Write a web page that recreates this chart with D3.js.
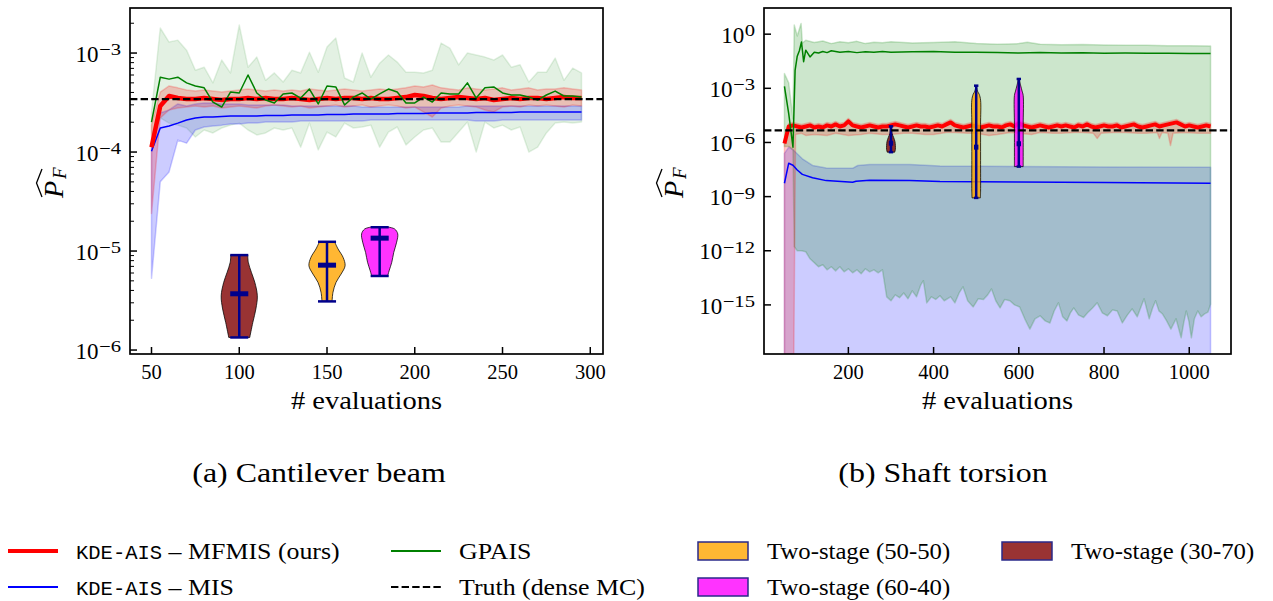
<!DOCTYPE html>
<html>
<head>
<meta charset="utf-8">
<title>Failure probability estimates</title>
<style>
  body { margin: 0; background: #fff; }
  svg { display: block; }
  text { font-family: "Liberation Serif", "Times New Roman", serif; fill: #000; }
  .mono { font-family: "Liberation Mono", "DejaVu Sans Mono", monospace; }
</style>
</head>
<body>
<svg width="1273" height="601"></svg>
<script src="https://d3js.org/d3.v7.min.js"></script>
<script>
// ---------- (a) Cantilever beam ----------
const cbEvals = [50,55,60,65,70,75,80,85,90,95,100,105,110,115,120,125,130,135,140,145,150,155,160,165,170,175,180,185,190,195,200,205,210,215,220,225,230,235,240,245,250,255,260,265,270,275,280,285,290,295];
const cbMfmis = [1.12e-4,2.92e-4,3.68e-4,3.51e-4,3.43e-4,3.43e-4,3.51e-4,3.43e-4,3.35e-4,3.43e-4,
  3.43e-4,3.51e-4,3.43e-4,3.51e-4,3.43e-4,3.43e-4,3.51e-4,3.43e-4,3.35e-4,3.43e-4,
  3.51e-4,3.43e-4,3.51e-4,3.51e-4,3.43e-4,3.51e-4,3.43e-4,3.43e-4,3.51e-4,3.59e-4,
  3.77e-4,3.68e-4,3.51e-4,3.43e-4,3.51e-4,3.59e-4,3.51e-4,3.43e-4,3.51e-4,3.35e-4,
  3.43e-4,3.51e-4,3.43e-4,3.51e-4,3.51e-4,3.43e-4,3.51e-4,3.59e-4,3.51e-4,3.51e-4];
const cbMfmisHi = [1.87e-4,4.04e-4,4.65e-4,4.45e-4,4.23e-4,4.13e-4,4.23e-4,4.13e-4,4.04e-4,4.13e-4,
  4.23e-4,4.33e-4,4.23e-4,4.13e-4,4.23e-4,4.13e-4,4.23e-4,4.13e-4,4.33e-4,4.23e-4,
  4.13e-4,4.23e-4,4.33e-4,4.23e-4,4.13e-4,4.23e-4,4.33e-4,4.23e-4,4.33e-4,4.45e-4,
  4.65e-4,4.55e-4,4.75e-4,4.45e-4,4.33e-4,4.23e-4,4.45e-4,4.33e-4,4.23e-4,4.33e-4,
  4.45e-4,4.23e-4,4.33e-4,4.45e-4,4.23e-4,4.33e-4,4.33e-4,4.45e-4,4.33e-4,4.23e-4];
const cbMfmisLo = [2.4e-5,2.21e-4,2.66e-4,2.78e-4,2.85e-4,2.92e-4,2.85e-4,2.92e-4,2.78e-4,2.85e-4,
  2.92e-4,2.85e-4,2.78e-4,2.92e-4,2.99e-4,2.92e-4,2.85e-4,2.92e-4,2.78e-4,2.85e-4,
  2.92e-4,2.99e-4,2.85e-4,2.92e-4,2.99e-4,2.85e-4,2.92e-4,2.99e-4,2.92e-4,2.78e-4,
  2.85e-4,2.54e-4,2.26e-4,2.78e-4,2.92e-4,2.99e-4,2.92e-4,2.85e-4,2.66e-4,2.54e-4,
  2.85e-4,2.92e-4,2.85e-4,2.99e-4,2.92e-4,2.99e-4,2.92e-4,2.85e-4,2.99e-4,2.92e-4];
const cbMis = [1.02e-4,1.75e-4,1.83e-4,1.96e-4,2.11e-4,2.21e-4,2.26e-4,2.26e-4,2.29e-4,2.31e-4,
  2.31e-4,2.31e-4,2.31e-4,2.34e-4,2.34e-4,2.34e-4,2.37e-4,2.37e-4,2.37e-4,2.37e-4,
  2.40e-4,2.40e-4,2.40e-4,2.42e-4,2.42e-4,2.42e-4,2.42e-4,2.42e-4,2.45e-4,2.45e-4,
  2.45e-4,2.45e-4,2.48e-4,2.48e-4,2.48e-4,2.48e-4,2.48e-4,2.51e-4,2.51e-4,2.51e-4,
  2.51e-4,2.51e-4,2.54e-4,2.54e-4,2.54e-4,2.54e-4,2.54e-4,2.54e-4,2.54e-4,2.54e-4];
const cbMisHi = [1.18e-4,2.48e-4,2.66e-4,3.06e-4,2.92e-4,3.06e-4,3.13e-4,3.13e-4,3.06e-4,3.06e-4,
  3.06e-4,2.99e-4,2.99e-4,2.99e-4,2.99e-4,2.99e-4,2.92e-4,2.92e-4,2.92e-4,2.92e-4,
  2.92e-4,2.92e-4,2.92e-4,2.92e-4,2.85e-4,2.85e-4,2.85e-4,2.85e-4,2.85e-4,2.85e-4,
  2.85e-4,2.85e-4,2.85e-4,2.85e-4,2.85e-4,2.85e-4,2.92e-4,2.92e-4,2.92e-4,2.92e-4,
  2.92e-4,2.92e-4,2.92e-4,2.92e-4,2.92e-4,2.92e-4,2.92e-4,2.92e-4,2.92e-4,2.92e-4];
const cbMisLo = [5.3e-6,5.0e-5,6.3e-5,1.32e-4,1.23e-4,1.67e-4,1.79e-4,1.83e-4,1.87e-4,1.92e-4,
  1.92e-4,1.96e-4,1.96e-4,2.01e-4,2.01e-4,2.01e-4,2.01e-4,2.06e-4,2.06e-4,2.06e-4,
  2.06e-4,2.06e-4,2.06e-4,2.06e-4,2.06e-4,2.11e-4,2.11e-4,2.11e-4,2.11e-4,2.11e-4,
  2.11e-4,2.11e-4,2.11e-4,2.11e-4,2.11e-4,2.11e-4,2.11e-4,2.06e-4,2.06e-4,2.06e-4,
  2.11e-4,2.11e-4,2.11e-4,2.11e-4,2.11e-4,2.11e-4,2.11e-4,2.11e-4,2.11e-4,2.11e-4];
const cbGpais = [2.01e-4,5.7e-4,5.45e-4,5.7e-4,5.0e-4,4.65e-4,4.45e-4,3.20e-4,2.85e-4,4.04e-4,
  3.95e-4,6.0e-4,3.95e-4,3.35e-4,3.13e-4,3.86e-4,3.95e-4,3.51e-4,4.33e-4,3.06e-4,
  4.65e-4,4.55e-4,2.99e-4,3.59e-4,3.95e-4,3.43e-4,3.86e-4,4.33e-4,4.04e-4,3.13e-4,
  3.13e-4,3.59e-4,3.20e-4,3.95e-4,3.86e-4,3.86e-4,5.0e-4,3.51e-4,4.45e-4,4.55e-4,
  3.95e-4,3.77e-4,3.77e-4,3.59e-4,3.35e-4,3.77e-4,4.13e-4,3.68e-4,3.68e-4,3.59e-4];
const cbGpaisHi = [2.54e-4,1.79e-3,1.29e-3,1.35e-3,1.07e-3,6.7e-4,7.2e-4,5.0e-4,8.5e-4,6.3e-4,
  1.92e-3,7.2e-4,9.1e-4,5.3e-4,6.3e-4,5.1e-4,6.7e-4,6.3e-4,1.02e-3,6.4e-4,
  1.15e-3,1.42e-3,5.6e-4,5.1e-4,1.0e-3,5.7e-4,7.9e-4,9.55e-4,8.1e-4,6.4e-4,
  6.4e-4,6.3e-4,6.7e-4,1.26e-3,1.12e-3,7.6e-4,1.0e-3,9.55e-4,9.1e-4,8.5e-4,
  9.55e-4,7.2e-4,7.6e-4,5.1e-4,6.4e-4,6.4e-4,8.9e-4,5.3e-4,7.05e-4,6.3e-4];
const cbGpaisLo = [1.49e-4,2.21e-4,1.96e-4,1.87e-4,1.75e-4,1.42e-4,1.67e-4,1.56e-4,1.75e-4,1.87e-4,
  1.96e-4,1.67e-4,1.49e-4,1.56e-4,1.75e-4,1.67e-4,1.75e-4,1.12e-4,1.96e-4,1.05e-4,
  1.59e-4,1.42e-4,1.96e-4,1.75e-4,1.79e-4,1.87e-4,1.12e-4,1.59e-4,1.79e-4,1.18e-4,
  1.42e-4,1.67e-4,1.75e-4,1.26e-4,1.26e-4,1.59e-4,2.01e-4,1.0e-4,2.01e-4,1.75e-4,
  1.87e-4,1.67e-4,1.79e-4,1.0e-4,1.12e-4,1.56e-4,1.96e-4,2.01e-4,1.96e-4,2.01e-4];
const cbTruth = 3.43e-4;

// two-stage violins: order 30-70, 50-50, 60-40
const cbViolinPos = [100, 150, 180];
const cbViolinGrid = [
  [9.1e-6, 7.7e-6, 6.1e-6, 4.83e-6, 3.53e-6, 2.6e-6, 1.9e-6, 1.34e-6],
  [1.24e-5, 1.05e-5, 8.63e-6, 7.1e-6, 5.86e-6, 4.83e-6, 3.83e-6, 3.1e-6],
  [1.74e-5, 1.67e-5, 1.49e-5, 1.23e-5, 9.7e-6, 7.7e-6, 6.3e-6, 5.6e-6]];
const cbViolinDens = [
  [0.47, 0.5, 0.67, 0.86, 1.0, 0.92, 0.75, 0.58],
  [0.42, 0.61, 0.89, 1.0, 0.78, 0.5, 0.33, 0.28],
  [0.52, 0.83, 1.0, 0.94, 0.78, 0.67, 0.52, 0.44]];
const cbViolinMean = [3.7e-6, 7.2e-6, 1.35e-5];

const cbXTicks = [50, 100, 150, 200, 250, 300];
const cbYTicks = [1e-6, 1e-5, 1e-4, 1e-3];
const cbYTickExp = ["\u22126", "\u22125", "\u22124", "\u22123"];

// ---------- (b) Shaft torsion ----------
const stEvals = [50,60,70,80,90,100,110,120,130,140,150,160,170,180,190,200,210,220,230,240,250,260,270,280,290,300,310,320,330,340,350,360,370,380,390,400,410,420,430,440,450,460,470,480,490,500,510,520,530,540,550,560,570,580,590,600,610,620,630,640,650,660,670,680,690,700,710,720,730,740,750,760,770,780,790,800,810,820,830,840,850,860,870,880,890,900,910,920,930,940,950,960,970,980,990,1000,1010,1020,1030,1040,1050];
const stMfmis = [8.8e-7,7.7e-6,8.8e-6,7.7e-6,6.8e-6,7.7e-6,8.8e-6,6.8e-6,7.7e-6,6.8e-6,
  8.8e-6,7.7e-6,1.0e-5,7.7e-6,8.8e-6,1.47e-5,8.8e-6,7.7e-6,6.8e-6,7.7e-6,
  8.8e-6,7.7e-6,6.8e-6,7.7e-6,7.7e-6,8.8e-6,1.0e-5,8.8e-6,7.7e-6,6.8e-6,
  7.7e-6,8.8e-6,7.7e-6,7.7e-6,6.8e-6,7.7e-6,8.8e-6,7.7e-6,1.0e-5,1.29e-5,
  8.8e-6,7.7e-6,6.8e-6,7.7e-6,8.8e-6,7.7e-6,6.8e-6,7.7e-6,8.8e-6,7.7e-6,
  7.7e-6,6.8e-6,8.8e-6,1.0e-5,7.7e-6,1.14e-5,8.8e-6,7.7e-6,6.8e-6,7.7e-6,
  8.8e-6,7.7e-6,6.8e-6,7.7e-6,8.8e-6,7.7e-6,8.8e-6,7.7e-6,6.8e-6,8.8e-6,
  7.7e-6,1.0e-5,7.7e-6,6.8e-6,7.7e-6,8.8e-6,7.7e-6,7.7e-6,8.8e-6,6.8e-6,
  7.7e-6,8.8e-6,1.0e-5,7.7e-6,6.8e-6,7.7e-6,8.8e-6,1.0e-5,7.7e-6,8.8e-6,
  1.0e-5,1.14e-5,1.29e-5,1.0e-5,7.7e-6,8.8e-6,7.7e-6,6.8e-6,7.7e-6,8.8e-6,
  7.7e-6];
const stMfmisHi = [1.3e-6,1.14e-5,1.29e-5,1.14e-5,1.0e-5,1.14e-5,1.29e-5,1.0e-5,1.14e-5,1.0e-5,
  1.29e-5,1.14e-5,1.47e-5,1.14e-5,1.29e-5,2.15e-5,1.29e-5,1.14e-5,1.0e-5,1.14e-5,
  1.29e-5,1.14e-5,1.0e-5,1.14e-5,1.14e-5,1.29e-5,1.47e-5,1.29e-5,1.14e-5,1.0e-5,
  1.14e-5,1.29e-5,1.14e-5,1.14e-5,1.0e-5,1.14e-5,1.29e-5,1.14e-5,1.47e-5,1.9e-5,
  1.29e-5,1.14e-5,1.0e-5,1.14e-5,1.29e-5,1.14e-5,1.0e-5,1.14e-5,1.29e-5,1.14e-5,
  1.14e-5,1.0e-5,1.29e-5,1.47e-5,1.14e-5,1.67e-5,1.29e-5,1.14e-5,1.0e-5,1.14e-5,
  1.29e-5,1.14e-5,1.0e-5,1.14e-5,1.29e-5,1.14e-5,1.29e-5,1.14e-5,1.0e-5,1.29e-5,
  1.14e-5,1.47e-5,1.14e-5,1.0e-5,1.14e-5,1.29e-5,1.14e-5,1.14e-5,1.29e-5,1.0e-5,
  1.14e-5,1.29e-5,1.47e-5,1.14e-5,1.0e-5,1.14e-5,1.29e-5,1.47e-5,1.14e-5,1.29e-5,
  1.47e-5,1.67e-5,1.9e-5,1.47e-5,1.14e-5,1.29e-5,1.14e-5,1.0e-5,1.14e-5,1.29e-5,
  1.14e-5];
const stMfmisLoX = [50,72,76,90,100,120,150,170,200,230,250,280,300,330,350,380,400,430,450,480,500,530,550,580,600,630,650,680,700,730,750,775,784,793,820,850,880,900,925,930,936,950,956,962,990,1020,1050];
const stMfmisLo = [1e-20,1e-20,2.8e-6,3.2e-6,2.45e-6,2.8e-6,2.45e-6,3.2e-6,2.45e-6,2.8e-6,
  3.2e-6,2.8e-6,2.8e-6,3.2e-6,3.2e-6,2.8e-6,2.8e-6,3.6e-6,3.6e-6,3.2e-6,
  3.2e-6,2.45e-6,2.8e-6,3.6e-6,3.2e-6,2.8e-6,3.6e-6,3.2e-6,3.2e-6,3.6e-6,
  3.6e-6,3.2e-6,1.67e-6,3.2e-6,3.6e-6,3.6e-6,3.2e-6,3.2e-6,3.6e-6,1.67e-6,
  3.6e-6,3.2e-6,6.8e-7,3.2e-6,3.6e-6,3.2e-6,3.2e-6];

const stMisX = [50,60,70,80,92,116,148,210,218,250,344,415,600,800,1050];
const stMis = [5.5e-9,7.1e-8,5.5e-8,3e-8,1.7e-8,1.1e-8,7.7e-9,6.3e-9,7.1e-9,8.0e-9,7.7e-9,6.8e-9,6.4e-9,6.0e-9,5.5e-9];
const stMisHiX = [50,60,72,92,116,148,210,222,250,344,415,600,800,1050];
const stMisHi = [2.5e-7,5.5e-7,3.6e-7,1.25e-7,5.3e-8,3.9e-8,3.7e-8,5.3e-8,6e-8,6e-8,4.9e-8,4.6e-8,4.4e-8,4.3e-8];
const stMisLoX = [50, 1050];
const stMisLo = [1e-20, 1e-20];

const stGpaisX = [50,60,70,75,80,85,90,95,100,110,120,130,140,150,160,180,200,220,240,260,280,300,350,400,450,500,550,600,650,700,750,800,850,900,950,1000,1050];
const stGpais = [1.3e-3,4e-5,5.5e-7,1e-2,6e-2,0.12,0.37,0.03,0.13,0.055,
  0.1,0.09,0.11,0.095,0.12,0.1,0.11,0.095,0.105,0.1,
  0.11,0.1,0.105,0.11,0.1,0.1,0.095,0.09,0.095,0.09,
  0.092,0.088,0.09,0.088,0.087,0.086,0.085];
const stGpaisHiX = [50,60,70,73,80,89,92,100,120,140,160,180,200,220,240,260,280,300,350,400,450,500,550,600,620,650,700,750,800,850,900,950,1000,1050];
const stGpaisHi = [6.6e-3,2e-3,2e-5,3.2,0.8,3.9,0.32,0.46,0.35,0.42,
  0.3,0.38,0.33,0.4,0.3,0.36,0.33,0.38,0.32,0.35,
  0.38,0.3,0.28,0.3,0.36,0.28,0.26,0.27,0.25,0.24,
  0.24,0.23,0.23,0.22];
const stGpaisLoX = [50,60,70,73,80,90,100,110,120,130,140,150,160,170,180,190,200,210,220,230,240,250,260,270,280,290,300,310,320,330,340,350,360,370,376,384,395,405,415,425,440,450,460,469,480,493,505,517,527,536,546,556,567,579,590,602,614,626,638,650,662,673,683,693,703,713,721,729,740,752,763,773,784,796,808,820,831,843,855,866,878,894,906,914,921,929,937,947,957,969,981,987,993,999,1005,1012,1020,1028,1036,1044,1050];
const stGpaisLo = [6e-7,6e-7,4e-7,1.7e-12,1e-12,1e-12,8.8e-13,3.6e-13,2.2e-13,1.3e-13,
  1.7e-13,8.8e-14,1.3e-13,7.7e-14,1.3e-13,6.8e-14,1e-13,6e-14,8.8e-14,5.3e-14,
  1e-13,6.8e-14,8.8e-14,6e-14,8.8e-14,2.8e-15,1.7e-15,3.6e-15,2.5e-15,4.6e-15,
  2.2e-15,6e-15,2.8e-15,1.3e-14,2.2e-14,1.3e-15,2.8e-15,2e-15,3.2e-15,1.7e-15,
  2.8e-15,1.3e-15,4.6e-15,1e-14,1.7e-15,7.7e-16,2.2e-15,2e-15,3.6e-15,7.7e-15,
  1.7e-15,6.8e-16,2e-15,1.7e-15,1e-15,7.7e-16,1.7e-16,4.6e-17,1.7e-16,2.5e-16,
  1.3e-16,1e-16,4.6e-16,1.3e-15,2.2e-16,1.3e-16,3.6e-16,6.8e-16,2.8e-16,2e-16,
  4e-16,6.8e-16,1.3e-15,3.6e-16,2.5e-16,5.3e-16,4.6e-16,1e-16,2.8e-16,6e-16,
  2.2e-16,2.2e-15,1.7e-16,6.8e-16,1.7e-15,4.6e-16,3.2e-16,1.3e-16,4.6e-17,1.7e-16,
  1.5e-17,1e-16,4.6e-16,1.3e-16,1.5e-17,1.7e-16,4.6e-16,2.2e-16,3.2e-16,4e-16,
  1.1e-15];
const stTruth = 4.64e-6;

const stViolinPos = [300, 500, 600];
const stViolinGrid = [
  [7.8e-6, 3.2e-6, 1.9e-6, 1.14e-6, 6.8e-7, 4.1e-7, 2.9e-7],
  [1.4e-3, 7e-4, 4.6e-4, 2.2e-4, 1e-5, 1e-7, 2e-9, 8.5e-10],
  [3.3e-3, 1.5e-3, 7e-4, 4e-4, 1e-5, 1e-6, 1e-7, 4.6e-8]];
const stViolinDens = [
  [0.15, 0.25, 0.6, 0.9, 1.0, 1.0, 0.85],
  [0.05, 0.3, 0.7, 1.0, 1.0, 1.0, 1.0, 0.95],
  [0.1, 0.4, 0.75, 1.0, 1.0, 1.0, 1.0, 1.0]];
const stViolinMean = [9.1e-7, 5.5e-7, 8.5e-7];

const stXTicks = [200, 400, 600, 800, 1000];
const stYTicks = [1e-15, 1e-12, 1e-9, 1e-6, 1e-3, 1];
const stYTickExp = ["\u221215", "\u221212", "\u22129", "\u22126", "\u22123", "0"];

const violinColors = ["#800000", "#ffa500", "#ff00ff"];
const violinWidth = 20.6;   // full width, in evaluations

// ---------- drawing ----------
const svg = d3.select("svg");
const defs = svg.append("defs");

// stretch text horizontally (closer to Computer Modern proportions); returns new width
function widen(sel, k) {
  let out = 0;
  sel.each(function () {
    const w = this.getComputedTextLength();
    out = w * k;
    d3.select(this).attr("textLength", out).attr("lengthAdjust", "spacingAndGlyphs");
  });
  return out;
}

function makePanel(id, box, xDomain, yDomain) {
  const x = d3.scaleLinear().domain(xDomain).range([box.l, box.r]);
  const y = d3.scaleLog().domain(yDomain).range([box.b, box.t]).clamp(true);
  defs.append("clipPath").attr("id", "clip-" + id).append("rect")
    .attr("x", box.l).attr("y", box.t)
    .attr("width", box.r - box.l).attr("height", box.b - box.t);
  const g = svg.append("g");
  const plot = g.append("g").attr("clip-path", `url(#clip-${id})`);
  return { x, y, g, plot, box };
}

function band(p, xsHi, hi, xsLo, lo, color, alpha) {
  const pts = xsHi.map((v, i) => [p.x(v), p.y(hi[i])])
    .concat(xsLo.map((v, i) => [p.x(v), p.y(lo[i])]).reverse());
  p.plot.append("path")
    .attr("d", d3.line()(pts) + "Z")
    .attr("fill", color).attr("fill-opacity", alpha)
    .attr("stroke", color).attr("stroke-opacity", alpha).attr("stroke-width", 1.5)
    .attr("stroke-linejoin", "round");
}

function curve(p, xs, ys, color, width) {
  p.plot.append("path")
    .datum(xs.map((v, i) => [v, ys[i]]))
    .attr("d", d3.line().x(d => p.x(d[0])).y(d => p.y(d[1])))
    .attr("fill", "none").attr("stroke", color).attr("stroke-width", width)
    .attr("stroke-linejoin", "round");
}

function truthLine(p, value) {
  const xd = p.x.domain();
  p.plot.append("line")
    .attr("x1", p.x(xd[0])).attr("x2", p.x(xd[1]))
    .attr("y1", p.y(value)).attr("y2", p.y(value))
    .attr("stroke", "#000").attr("stroke-width", 2.2).attr("stroke-dasharray", "7.4,3.2");
}

function violins(p, pos, grids, dens, means) {
  const half = violinWidth / 2, cap = violinWidth / 4;
  const ln = d3.line().curve(d3.curveCatmullRom);
  pos.forEach((c, k) => {
    const right = grids[k].map((v, i) => [p.x(c + dens[k][i] * half), p.y(v)]);
    const left = grids[k].map((v, i) => [p.x(c - dens[k][i] * half), p.y(v)]).reverse();
    p.plot.append("path")
      .attr("d", ln(right) + ln(left).replace(/^M/, "L") + "Z")
      .attr("fill", violinColors[k]).attr("fill-opacity", 0.8)
      .attr("stroke", "#000").attr("stroke-opacity", 0.75).attr("stroke-width", 1);
    const vmax = grids[k][0], vmin = grids[k][grids[k].length - 1];
    const lines = p.plot.append("g").attr("stroke", "#00008b");
    lines.append("line").attr("x1", p.x(c)).attr("x2", p.x(c))
      .attr("y1", p.y(vmax)).attr("y2", p.y(vmin)).attr("stroke-width", 2.5);
    [vmax, vmin].forEach(v => lines.append("line")
      .attr("x1", p.x(c - cap)).attr("x2", p.x(c + cap))
      .attr("y1", p.y(v)).attr("y2", p.y(v)).attr("stroke-width", 2.5));
    lines.append("line")
      .attr("x1", p.x(c - cap)).attr("x2", p.x(c + cap))
      .attr("y1", p.y(means[k])).attr("y2", p.y(means[k])).attr("stroke-width", 5);
  });
}

function axes(p, xTicks, yTicks, yExp, minor) {
  const b = p.box;
  const ax = p.g.append("g");
  // x ticks (inward)
  xTicks.forEach(t => {
    ax.append("line").attr("x1", p.x(t)).attr("x2", p.x(t))
      .attr("y1", b.b).attr("y2", b.b - 7).attr("stroke", "#000").attr("stroke-width", 1.5);
    ax.append("text").attr("x", p.x(t)).attr("y", b.b + 25)
      .attr("text-anchor", "middle").style("font-size", "20.5px").text(t);
  });
  // y ticks: "10" with a superscript exponent, right-aligned to the axis
  yTicks.forEach((t, i) => {
    const ty = p.y(t);
    ax.append("line").attr("x1", b.l).attr("x2", b.l + 7)
      .attr("y1", ty).attr("y2", ty).attr("stroke", "#000").attr("stroke-width", 1.5);
    const sw = widen(ax.append("text").attr("x", b.l - 9).attr("y", ty + 2)
      .attr("text-anchor", "end").style("font-size", "16.5px").text(yExp[i]), 1.25);
    ax.append("text").attr("x", b.l - 9.5 - sw).attr("y", ty + 8.7)
      .attr("text-anchor", "end").style("font-size", "23px").text("10");
  });
  if (minor) {
    p.y.ticks().filter(t => Math.abs(Math.log10(t) - Math.round(Math.log10(t))) > 1e-6)
      .forEach(t => ax.append("line").attr("x1", b.l).attr("x2", b.l + 4)
        .attr("y1", p.y(t)).attr("y2", p.y(t)).attr("stroke", "#000").attr("stroke-width", 1));
  }
  ax.append("rect").attr("x", b.l).attr("y", b.t)
    .attr("width", b.r - b.l).attr("height", b.b - b.t)
    .attr("fill", "none").attr("stroke", "#000").attr("stroke-width", 1.7);
  // axis label
  widen(ax.append("text").attr("x", (b.l + b.r) / 2).attr("y", b.b + 55)
    .attr("text-anchor", "middle").style("font-size", "25px").text("# evaluations"), 1.14);
}

function yLabel(ox, oy) {
  const g = svg.append("g").attr("transform", `translate(${ox},${oy}) rotate(-90)`);
  g.append("text").attr("x", 0).attr("y", 0)
    .style("font-style", "italic").style("font-size", "28px").text("P");
  g.append("text").attr("x", 19).attr("y", 3)
    .style("font-style", "italic").style("font-size", "19px").text("F");
  g.append("path").attr("d", "M1,-21 L15,-26.5 L29,-21")
    .attr("fill", "none").attr("stroke", "#000").attr("stroke-width", 1.3);
}

// panel (a)
const pa = makePanel("a", { l: 130, r: 603, t: 8, b: 354 }, [37.75, 307.25], [Math.pow(10, -6.04), Math.pow(10, -2.545)]);
band(pa, cbEvals, cbGpaisHi, cbEvals, cbGpaisLo, "#008000", 0.11);
band(pa, cbEvals, cbMisHi, cbEvals, cbMisLo, "#0000ff", 0.2);
band(pa, cbEvals, cbMfmisHi, cbEvals, cbMfmisLo, "#ff0000", 0.2);
curve(pa, cbEvals, cbMis, "#0000ff", 1.5);
curve(pa, cbEvals, cbMfmis, "#ff0000", 4.5);
curve(pa, cbEvals, cbGpais, "#008000", 1.5);
truthLine(pa, cbTruth);
violins(pa, cbViolinPos, cbViolinGrid, cbViolinDens, cbViolinMean);
axes(pa, cbXTicks, cbYTicks, cbYTickExp, true);
yLabel(63, 198);

// panel (b)
const pb = makePanel("b", { l: 764, r: 1231, t: 8, b: 354 }, [2, 1098], [Math.pow(10, -17.72), Math.pow(10, 1.45)]);
band(pb, stMisHiX, stMisHi, stMisLoX, stMisLo, "#0000ff", 0.2);
band(pb, stGpaisHiX, stGpaisHi, stGpaisLoX, stGpaisLo, "#008000", 0.2);
band(pb, stEvals, stMfmisHi, stMfmisLoX, stMfmisLo, "#ff0000", 0.2);
curve(pb, stMisX, stMis, "#0000ff", 1.5);
curve(pb, stEvals, stMfmis, "#ff0000", 4);
curve(pb, stGpaisX, stGpais, "#008000", 1.5);
violins(pb, stViolinPos, stViolinGrid, stViolinDens, stViolinMean);
truthLine(pb, stTruth);
axes(pb, stXTicks, stYTicks, stYTickExp, false);
yLabel(683, 198);

// captions
widen(svg.append("text").attr("x", 319).attr("y", 482).attr("text-anchor", "middle")
  .style("font-size", "28px").text("(a) Cantilever beam"), 1.14);
widen(svg.append("text").attr("x", 943).attr("y", 482).attr("text-anchor", "middle")
  .style("font-size", "28px").text("(b) Shaft torsion"), 1.14);

// legend
const legendLines = [
  { x: 8, y: 551, color: "#ff0000", w: 4, dash: null, mono: "KDE-AIS", label: " \u2013 MFMIS (ours)" },
  { x: 8, y: 587, color: "#0000ff", w: 2, dash: null, mono: "KDE-AIS", label: " \u2013 MIS" },
  { x: 391, y: 551, color: "#008000", w: 2, dash: null, mono: "", label: "GPAIS" },
  { x: 391, y: 587, color: "#000", w: 2, dash: "7.4,3.2", mono: "", label: "Truth (dense MC)" }];
const legendPatches = [
  { x: 698, y: 551, k: 1, label: "Two-stage (50-50)" },
  { x: 698, y: 587, k: 2, label: "Two-stage (60-40)" },
  { x: 1002, y: 551, k: 0, label: "Two-stage (30-70)" }];
const lg = svg.append("g");
legendLines.forEach(e => {
  lg.append("line").attr("x1", e.x).attr("x2", e.x + 50).attr("y1", e.y).attr("y2", e.y)
    .attr("stroke", e.color).attr("stroke-width", e.w).attr("stroke-dasharray", e.dash);
  let tx = e.x + 68;
  if (e.mono) {
    const m = lg.append("text").attr("class", "mono").attr("x", tx).attr("y", e.y + 7.5)
      .style("font-size", "20.5px").text(e.mono);
    tx += m.node().getComputedTextLength();
  }
  widen(lg.append("text").attr("x", tx).attr("y", e.y + 8).style("font-size", "22.5px")
    .style("white-space", "pre").text(e.label), 1.15);
});
legendPatches.forEach(e => {
  lg.append("rect").attr("x", e.x).attr("y", e.y - 9).attr("width", 50).attr("height", 18)
    .attr("fill", violinColors[e.k]).attr("fill-opacity", 0.8)
    .attr("stroke", "#2a2a8a").attr("stroke-width", 1.5);
  widen(lg.append("text").attr("x", e.x + 69).attr("y", e.y + 8).style("font-size", "22.5px")
    .text(e.label), 1.1);
});
</script>
</body>
</html>
